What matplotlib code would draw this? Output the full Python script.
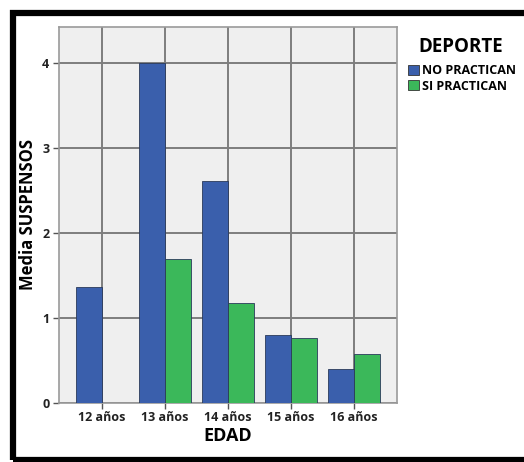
"""Gráfico de barras: media de suspensos por edad y práctica deportiva."""

import matplotlib.pyplot as plt
import numpy as np
from matplotlib.patches import Rectangle

plt.rcParams["font.family"] = ["Open Sans", "DejaVu Sans"]

EDADES = ["12 años", "13 años", "14 años", "15 años", "16 años"]
NO_PRACTICAN = [1.37, 4.0, 2.62, 0.80, 0.40]
SI_PRACTICAN = [0.0, 1.70, 1.18, 0.77, 0.58]
SERIES = ["NO PRACTICAN", "SI PRACTICAN"]
Y_TICKS = [0, 1, 2, 3, 4]

COLOR_NO = "#3a5fac"
COLOR_SI = "#3bb85a"

W, H = 524, 462
fig = plt.figure(figsize=(W / 100, H / 100), dpi=100)

# marco negro alrededor de la figura (el borde derecho queda fuera)
fig.patches.append(
    Rectangle((13 / W, 2.5 / H), 1.2, (H - 15) / H, transform=fig.transFigure,
              fill=False, edgecolor="black", linewidth=4.5, zorder=10)
)

ax = fig.add_axes([59 / W, (H - 403) / H, (397 - 59) / W, (403 - 27) / H])
ax.set_facecolor("#efefef")

x = np.arange(len(EDADES))
width = 0.41
ax.bar(x - width / 2, NO_PRACTICAN, width, color=COLOR_NO, edgecolor="#2a3a5a",
       linewidth=0.6, label=SERIES[0], zorder=3)
ax.bar(x + width / 2, SI_PRACTICAN, width, color=COLOR_SI, edgecolor="#2a3a5a",
       linewidth=0.6, label=SERIES[1], zorder=3)

ax.set_xlim(-0.68, len(EDADES) - 1 + 0.68)
ax.set_ylim(0, 4.43)
ax.set_yticks(Y_TICKS)
ax.set_xticks(x)
ax.set_xticklabels(EDADES)
ax.grid(True, color="#7d7d7d", linewidth=1.4, zorder=1)
ax.set_axisbelow(True)

for side in ["top", "right", "left", "bottom"]:
    ax.spines[side].set_color("#9a9a9a")
    ax.spines[side].set_linewidth(1.2)

ax.tick_params(axis="both", length=4, width=1.0, color="#555555",
               labelsize=9, pad=3)
ax.tick_params(axis="x", pad=2)
for label in ax.get_xticklabels() + ax.get_yticklabels():
    label.set_fontweight("bold")
    label.set_color("#222222")

ax.set_ylabel("Media SUSPENSOS", fontsize=12, fontweight="bold")
ax.yaxis.set_label_coords(-0.064, 0.5)
ax.set_xlabel("EDAD", fontsize=13, fontweight="bold", labelpad=2)

fig.text(461 / W, 1 - 47 / H, "DEPORTE", fontsize=13.5, fontweight="bold",
         ha="center", va="center")
handles = [Rectangle((0, 0), 1, 1, facecolor=COLOR_NO, edgecolor="#333333", linewidth=0.6),
           Rectangle((0, 0), 1, 1, facecolor=COLOR_SI, edgecolor="#333333", linewidth=0.6)]
fig.legend(handles, SERIES, loc="upper left", bbox_to_anchor=(408 / W, 1 - 64 / H),
           frameon=False, prop={"size": 9, "weight": "bold"},
           handlelength=0.85, handleheight=0.85, handletextpad=0.25,
           labelspacing=0.2, borderaxespad=0, borderpad=0)

fig.savefig("out.png", dpi=100)
